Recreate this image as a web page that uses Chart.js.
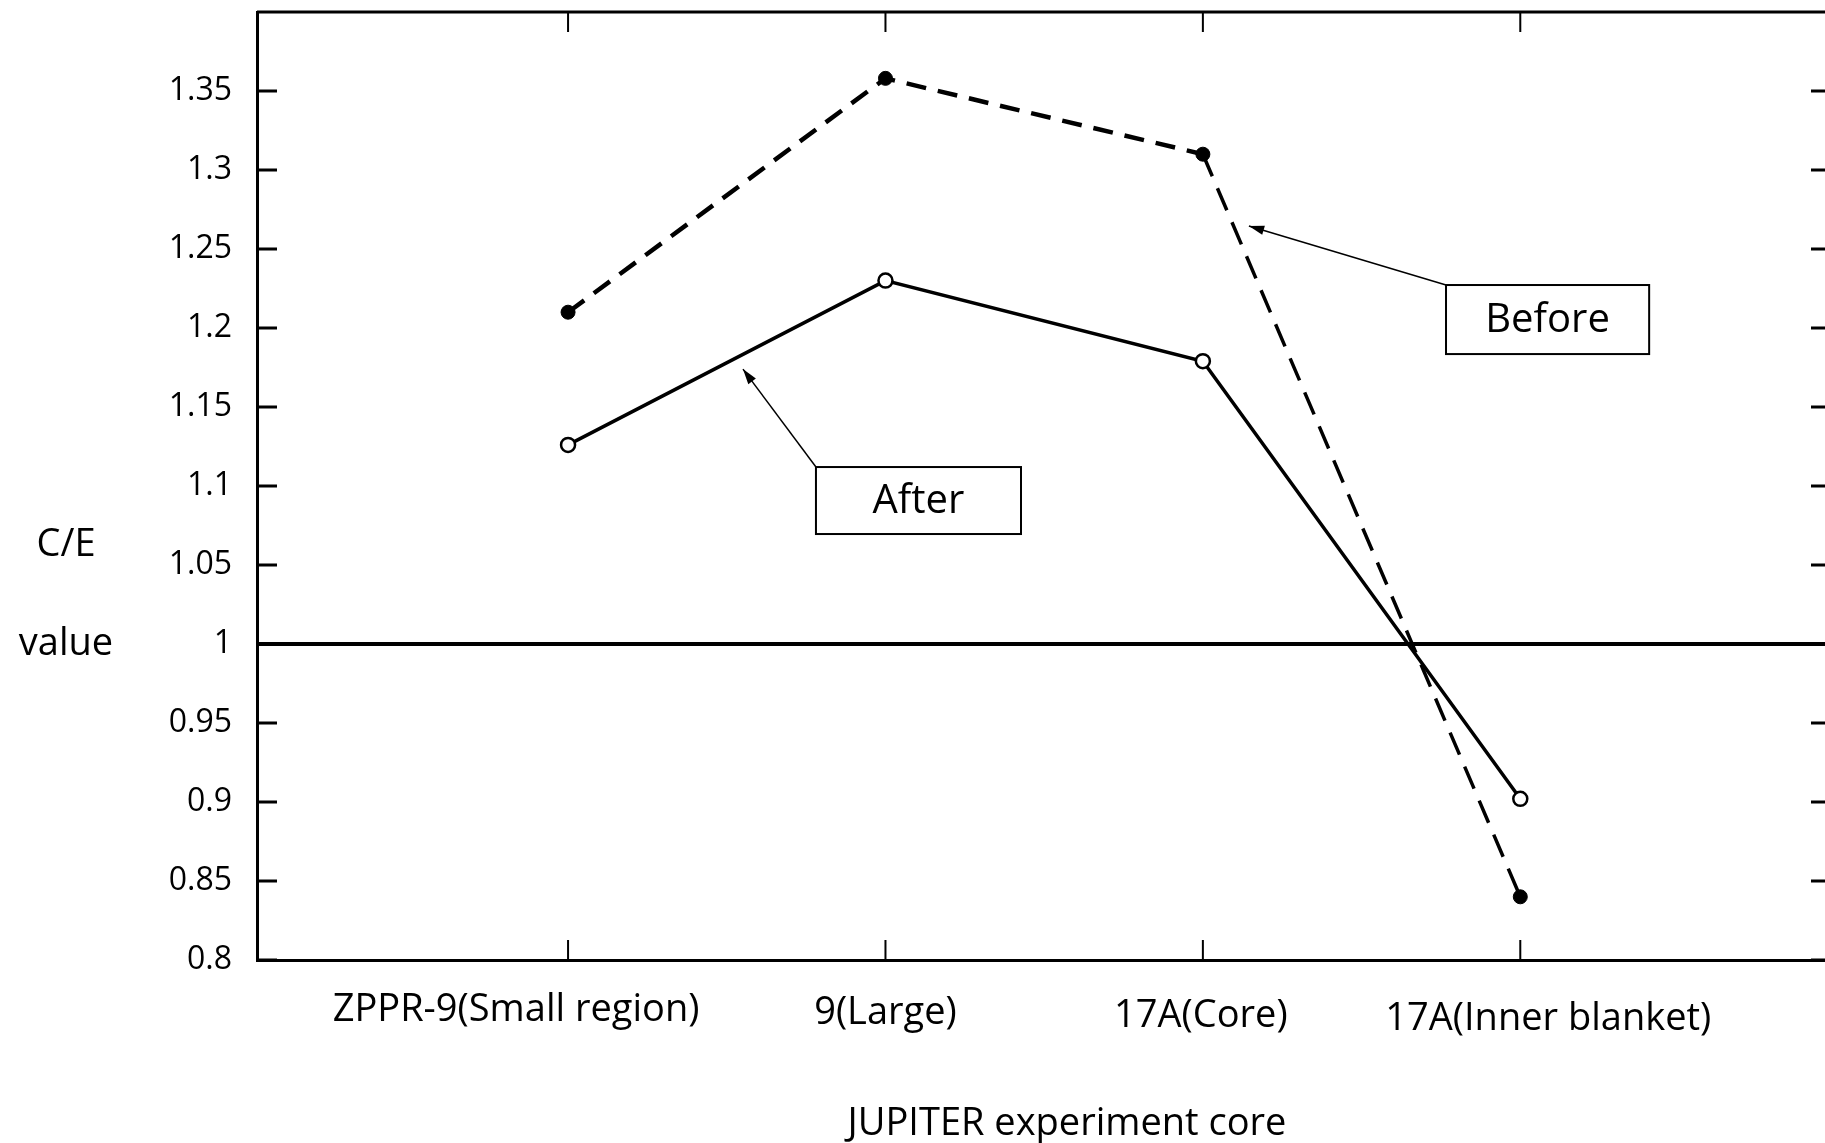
<!DOCTYPE html>
<html>
<head>
<meta charset="utf-8">
<title>C/E value - JUPITER experiment core</title>
<script src="https://cdn.jsdelivr.net/npm/chart.js@4.4.0/dist/chart.umd.min.js"></script>
<style>
  html, body { margin: 0; padding: 0; background: #fff; }
  #wrap { width: 1825px; height: 1143px; }
</style>
</head>
<body>
<div id="wrap"><canvas id="ceChart" width="1825" height="1143"></canvas></div>
<script>
// data
var cores = ["ZPPR-9(Small region)", "9(Large)", "17A(Core)", "17A(Inner blanket)"];
var coreX = [1, 2, 3, 4];
var before = [1.21, 1.358, 1.31, 0.84];
var after = [1.126, 1.23, 1.179, 0.902];
var yTicks = [0.8, 0.85, 0.9, 0.95, 1, 1.05, 1.1, 1.15, 1.2, 1.25, 1.3, 1.35];
var refLevel = 1;

var FONT = "'Open Sans', 'DejaVu Sans', sans-serif";
// the scanned labels sit a little off their ticks
var labelShift = [[-52, 0], [0, 3], [-2, 6], [28, 9]];

function pts(vals){
	return vals.map(function(v, i){ return {x: coreX[i], y: v}; });
}

// labelled boxes with arrows (in data units)
var notes = [
	{text: "Before", x0: 3.766, x1: 4.406, y0: 1.2272, y1: 1.1835, tipX: 3.145, tipY: 1.2646},
	{text: "After", x0: 1.781, x1: 2.427, y0: 1.112, y1: 1.0696, tipX: 1.551, tipY: 1.174}
];

var framePlugin = {
	id: 'frame',
	afterDraw: function(chart){
		var ctx = chart.ctx;
		var a = chart.chartArea;
		var xs = chart.scales.x, ys = chart.scales.y;
		ctx.save();
		ctx.strokeStyle = '#000';
		ctx.lineCap = 'butt';

		// top border
		ctx.lineWidth = 3;
		ctx.beginPath();
		ctx.moveTo(a.left, a.top);
		ctx.lineTo(a.right, a.top);
		ctx.stroke();

		// inward tick marks
		ctx.lineWidth = 3;
		yTicks.forEach(function(v){
			var y = ys.getPixelForValue(v);
			ctx.beginPath();
			ctx.moveTo(a.left, y); ctx.lineTo(a.left + 20, y);
			ctx.moveTo(a.right, y); ctx.lineTo(a.right - 14, y);
			ctx.stroke();
		});
		ctx.lineWidth = 2;
		coreX.forEach(function(v){
			var x = xs.getPixelForValue(v);
			ctx.beginPath();
			ctx.moveTo(x, a.top); ctx.lineTo(x, a.top + 20);
			ctx.moveTo(x, a.bottom); ctx.lineTo(x, a.bottom - 20);
			ctx.stroke();
		});

		ctx.fillStyle = '#000';
		ctx.textAlign = 'center';
		ctx.textBaseline = 'middle';

		// category names under the ticks
		ctx.font = "38px " + FONT;
		coreX.forEach(function(v, i){
			var x = xs.getPixelForValue(v) + labelShift[i][0];
			ctx.fillText(cores[i], x, a.bottom + 50 + labelShift[i][1]);
		});

		// boxes + arrows
		ctx.font = "40px " + FONT;
		notes.forEach(function(n){
			var l = xs.getPixelForValue(n.x0), r = xs.getPixelForValue(n.x1);
			var t = ys.getPixelForValue(n.y0), b = ys.getPixelForValue(n.y1);
			ctx.lineWidth = 2;
			ctx.strokeRect(l, t, r - l, b - t);
			ctx.fillText(n.text, (l + r) / 2, (t + b) / 2 + 1);

			var tx = xs.getPixelForValue(n.tipX), ty = ys.getPixelForValue(n.tipY);
			ctx.lineWidth = 1.5;
			ctx.beginPath();
			ctx.moveTo(l, t);
			ctx.lineTo(tx, ty);
			ctx.stroke();
			var ang = Math.atan2(ty - t, tx - l);
			ctx.beginPath();
			ctx.moveTo(tx, ty);
			ctx.lineTo(tx - 16 * Math.cos(ang - 0.3), ty - 16 * Math.sin(ang - 0.3));
			ctx.lineTo(tx - 16 * Math.cos(ang + 0.3), ty - 16 * Math.sin(ang + 0.3));
			ctx.closePath();
			ctx.fill();
		});

		// axis titles
		ctx.font = "38px " + FONT;
		ctx.fillText("C/E", 66, 545);
		ctx.fillText("value", 66, 644);
		ctx.fillText("JUPITER experiment core", 1067, 1124);
		ctx.restore();
	}
};

const CE = document.getElementById("ceChart");
let ceChart = new Chart(CE, {
	type: 'line',
	data: {
		datasets: [
			{
				label: "Before",
				data: pts(before),
				borderColor: '#000',
				borderWidth: 4.5,
				borderDash: [20, 12],
				pointRadius: 7,
				pointBackgroundColor: '#000',
				pointBorderColor: '#000',
				pointBorderWidth: 1,
				segment: {
					borderWidth: function(c){ return c.p0DataIndex === 2 ? 3.5 : undefined; },
					borderDash: function(c){ return c.p0DataIndex === 2 ? [24, 13] : undefined; }
				},
				order: 0
			},
			{
				label: "After",
				data: pts(after),
				borderColor: '#000',
				borderWidth: 3.5,
				pointRadius: 7,
				pointBackgroundColor: '#fff',
				pointBorderColor: '#000',
				pointBorderWidth: 2.5,
				order: 1
			},
			{
				label: "C/E = 1",
				data: [{x: 0, y: refLevel}, {x: 5, y: refLevel}],
				borderColor: '#000',
				borderWidth: 4,
				pointRadius: 0,
				clip: 0,
				order: 2
			}
		]
	},
	options: {
		responsive: false,
		animation: false,
		layout: { autoPadding: false, padding: { top: 12, right: 0, left: 0, bottom: 0 } },
		plugins: {
			legend: { display: false },
			tooltip: { enabled: false }
		},
		scales: {
			x: {
				type: 'linear',
				min: 0.02,
				max: 4.96,
				grid: { display: false, drawTicks: false },
				border: { display: true, color: '#000', width: 3 },
				afterBuildTicks: function(scale){
					scale.ticks = coreX.map(function(v){ return {value: v}; });
				},
				afterFit: function(scale){
					scale.height = 183;
					scale.paddingLeft = 0; scale.paddingRight = 0;
				},
				ticks: {
					display: false
				}
			},
			y: {
				type: 'linear',
				min: 0.8,
				max: 1.4,
				grid: { display: false, drawTicks: false },
				border: { display: true, color: '#000', width: 3 },
				afterBuildTicks: function(scale){
					scale.ticks = yTicks.map(function(v){ return {value: v}; });
				},
				afterFit: function(scale){
					scale.width = 257;
					scale.paddingTop = 0; scale.paddingBottom = 0;
				},
				ticks: {
					color: '#000',
					padding: 25,
					autoSkip: false,
					font: { family: FONT, size: 32 },
					callback: function(v){ return String(parseFloat(v.toFixed(2))); }
				}
			}
		}
	},
	plugins: [framePlugin]
});
</script>
</body>
</html>
